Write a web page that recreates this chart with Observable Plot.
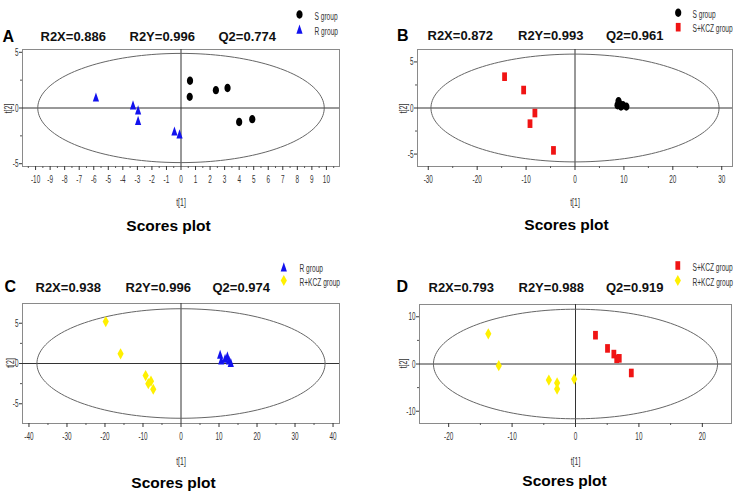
<!DOCTYPE html>
<html>
<head>
<meta charset="utf-8">
<script src="https://cdn.jsdelivr.net/npm/d3@7"></script>
<script src="https://cdn.jsdelivr.net/npm/@observablehq/plot@0.6"></script>
<style>
html, body { margin: 0; padding: 0; background: #fff; }
#chart { position: relative; width: 735px; height: 492px; overflow: hidden; background: #fff; }
#chart svg { position: absolute; }
</style>
</head>
<body>
<div id="chart"></div>
<script>
// ---------------- DATA ----------------
const panelLetters = ["A", "B", "C", "D"];
const statsA = ["R2X=0.886", "R2Y=0.996", "Q2=0.774"];
const statsB = ["R2X=0.872", "R2Y=0.993", "Q2=0.961"];
const statsC = ["R2X=0.938", "R2Y=0.996", "Q2=0.974"];
const statsD = ["R2X=0.793", "R2Y=0.988", "Q2=0.919"];
const panelTitle = "Scores plot";
const xAxisLabel = "t[1]";
const yAxisLabel = "t[2]";

const groupNames   = ["S group", "R group", "S+KCZ group", "R+KCZ group"];
const groupColors  = ["#000000", "#1212ee", "#f01414", "#fff000"];
const groupSymbols = ["circle", "triangle", "square", "diamond"];

const groupsA = ["S group", "R group"];
const groupsB = ["S group", "S+KCZ group"];
const groupsC = ["R group", "R+KCZ group"];
const groupsD = ["S+KCZ group", "R+KCZ group"];

// Panel A
const A_S_x = [0.62, 0.6, 2.4, 3.2, 4.0, 4.9];
const A_S_y = [2.45, 1.0, 1.6, 1.8, -1.25, -1.0];
const A_R_x = [-5.85, -3.3, -2.95, -2.95, -0.45, -0.1];
const A_R_y = [0.95, 0.25, -0.2, -1.15, -2.1, -2.35];
// Panel B
const B_S_x = [8.7, 8.9, 9.1, 9.4, 9.8, 10.5];
const B_S_y = [0.3, 0.75, 0.45, 0.15, 0.3, 0.15];
const B_SK_x = [-14.4, -10.5, -8.2, -9.2, -4.4];
const B_SK_y = [3.4, 1.95, -0.55, -1.7, -4.6];
// Panel C
const C_R_x = [10.3, 10.6, 11.6, 12.2, 12.6, 13.1];
const C_R_y = [1.1, 0.4, 0.6, 0.9, 0.4, 0.1];
const C_RK_x = [-19.8, -15.9, -9.3, -8.6, -7.9, -7.3];
const C_RK_y = [5.2, 1.2, -1.5, -2.5, -2.2, -3.2];
// Panel D
const D_SK_x = [3.15, 5.05, 6.05, 6.5, 6.9, 8.8];
const D_SK_y = [6.1, 3.3, 2.1, 1.1, 1.2, -1.9];
const D_RK_x = [-13.75, -12.1, -4.2, -2.9, -2.9, -0.2];
const D_RK_y = [6.4, -0.35, -3.4, -4.0, -5.3, -3.2];

// Hotelling T2 ellipse semi-axes [t1, t2]
const ellipseA = [9.85, 4.9];
const ellipseB = [29.45, 5.85];
const ellipseC = [37.9, 6.8];
const ellipseD = [22.4, 11.6];

// Axis domains and ticks
const xDomainA = [-10.9, 10.9], yDomainA = [-5.25, 5.25];
const xDomainB = [-32.2, 32.2], yDomainB = [-6.35, 6.35];
const xDomainC = [-41.7, 41.7], yDomainC = [-7.45, 7.45];
const xDomainD = [-24.6, 24.6], yDomainD = [-12.6, 12.6];

const xTicksA = [-10, -9, -8, -7, -6, -5, -4, -3, -2, -1, 0, 1, 2, 3, 4, 5, 6, 7, 8, 9, 10];
const xMinorA = [-10.5, -9.5, -8.5, -7.5, -6.5, -5.5, -4.5, -3.5, -2.5, -1.5, -0.5, 0.5, 1.5, 2.5, 3.5, 4.5, 5.5, 6.5, 7.5, 8.5, 9.5, 10.5];
const yTicksA = [-5, 0, 5];
const yMinorA = [-2.5, 2.5];
const xTicksB = [-30, -20, -10, 0, 10, 20, 30];
const xMinorB = [-25, -15, -5, 5, 15, 25];
const yTicksB = [-5, 0, 5];
const yMinorB = [-2.5, 2.5];
const xTicksC = [-40, -30, -20, -10, 0, 10, 20, 30, 40];
const xMinorC = [-35, -25, -15, -5, 5, 15, 25, 35];
const yTicksC = [-5, 0, 5];
const yMinorC = [-2.5, 2.5];
const xTicksD = [-20, -10, 0, 10, 20];
const xMinorD = [-15, -5, 5, 15];
const yTicksD = [-10, 0, 10];
const yMinorD = [-5, 5];

// ---------------- RENDERING ----------------
const fontMain = "'Liberation Sans', Arial, Helvetica, sans-serif";
const fontNarrow = "'Liberation Sans Narrow', 'Liberation Sans', Arial, sans-serif";

const K = 0.5523;
const SYMBOLS = {
  circle: {draw(ctx) {
    const rx = 3.1, ry = 4.2;
    ctx.moveTo(rx, 0);
    ctx.bezierCurveTo(rx, ry * K, rx * K, ry, 0, ry);
    ctx.bezierCurveTo(-rx * K, ry, -rx, ry * K, -rx, 0);
    ctx.bezierCurveTo(-rx, -ry * K, -rx * K, -ry, 0, -ry);
    ctx.bezierCurveTo(rx * K, -ry, rx, -ry * K, rx, 0);
    ctx.closePath();
  }},
  triangle: {draw(ctx) {
    ctx.moveTo(0, -5); ctx.lineTo(3.1, 4.2); ctx.lineTo(-3.1, 4.2); ctx.closePath();
  }},
  square: {draw(ctx) {
    ctx.moveTo(-2.4, -4.3); ctx.lineTo(2.4, -4.3); ctx.lineTo(2.4, 4.3); ctx.lineTo(-2.4, 4.3); ctx.closePath();
  }},
  diamond: {draw(ctx) {
    ctx.moveTo(0, -5.6); ctx.lineTo(3.1, 0); ctx.lineTo(0, 5.6); ctx.lineTo(-3.1, 0); ctx.closePath();
  }}
};

function styleOf(name) {
  const i = groupNames.indexOf(name);
  return {color: groupColors[i], symbol: SYMBOLS[groupSymbols[i]]};
}

function zip(xs, ys) { return xs.map((x, i) => ({x, y: ys[i]})); }

const layouts = [
  {left: 0, top: 0, width: 367, height: 245, mL: 22, mR: 28, mT: 49, mB: 79,
   letterX: 2, letterBase: 41.5, statsX: [40, 129, 218], statsBase: 41,
   titleC: 168, titleBase: 230, t1: [180.5, 202], t2: [8, 108],
   legX: 299, legY: [14, 29], legTextX: 314},
  {left: 367, top: 0, width: 368, height: 245, mL: 50, mR: 3, mT: 49, mB: 79,
   letterX: 396.5, letterBase: 40, statsX: [427, 517.5, 605.5], statsBase: 40,
   titleC: 566, titleBase: 229, t1: [574.5, 202], t2: [403, 108],
   legX: 677.7, legY: [12.3, 26.7], legTextX: 692},
  {left: 0, top: 245, width: 367, height: 247, mL: 22, mR: 28, mT: 58, mB: 69,
   letterX: 4, letterBase: 291.5, statsX: [35, 125, 212], statsBase: 292,
   titleC: 173, titleBase: 486.5, t1: [180.5, 461.5], t2: [10, 362.5],
   legX: 283.3, legY: [266.7, 280], legTextX: 299},
  {left: 367, top: 245, width: 368, height: 247, mL: 52, mR: 4, mT: 59, mB: 69,
   letterX: 396, letterBase: 291.5, statsX: [428, 518, 605.5], statsBase: 291.5,
   titleC: 564, titleBase: 485, t1: [575, 461.5], t2: [403, 363],
   legX: 677.3, legY: [265, 280], legTextX: 692}
];

const panels = [
  {letter: panelLetters[0], stats: statsA, groups: groupsA, pts: [zip(A_S_x, A_S_y), zip(A_R_x, A_R_y)],
   ell: ellipseA, xDom: xDomainA, yDom: yDomainA, xT: xTicksA, xM: xMinorA, yT: yTicksA, yM: yMinorA},
  {letter: panelLetters[1], stats: statsB, groups: groupsB, pts: [zip(B_S_x, B_S_y), zip(B_SK_x, B_SK_y)],
   ell: ellipseB, xDom: xDomainB, yDom: yDomainB, xT: xTicksB, xM: xMinorB, yT: yTicksB, yM: yMinorB},
  {letter: panelLetters[2], stats: statsC, groups: groupsC, pts: [zip(C_R_x, C_R_y), zip(C_RK_x, C_RK_y)],
   ell: ellipseC, xDom: xDomainC, yDom: yDomainC, xT: xTicksC, xM: xMinorC, yT: yTicksC, yM: yMinorC},
  {letter: panelLetters[3], stats: statsD, groups: groupsD, pts: [zip(D_SK_x, D_SK_y), zip(D_RK_x, D_RK_y)],
   ell: ellipseD, xDom: xDomainD, yDom: yDomainD, xT: xTicksD, xM: xMinorD, yT: yTicksD, yM: yMinorD}
];

// horizontally condense a text element around its anchor
function squeeze(el, s) {
  const t = el.getAttribute("transform") || "";
  const x = +el.getAttribute("x") || 0;
  el.setAttribute("transform", `${t} translate(${x},0) scale(${s},1) translate(${-x},0)`);
}

const chart = document.getElementById("chart");

panels.forEach((p, k) => {
  const L = layouts[k];
  const fx = L.left + L.mL, fy = L.top + L.mT;
  const at = (ax, ay) => ({frameAnchor: "top-left", dx: ax - fx, dy: ay - fy});
  const ellPts = d3.range(0, 361, 2).map(a => ({
    x: p.ell[0] * Math.cos(a * Math.PI / 180),
    y: p.ell[1] * Math.sin(a * Math.PI / 180)
  }));
  const fmt = d => String(d);
  const marks = [
    Plot.frame({stroke: "#8a8a8a", strokeWidth: 1}),
    Plot.ruleY([0], {stroke: "#333", strokeWidth: 1}),
    Plot.ruleX([0], {stroke: "#333", strokeWidth: 1}),
    Plot.line(ellPts, {x: "x", y: "y", stroke: "#666", strokeWidth: 1, curve: "linear"}),
    Plot.axisX({ticks: p.xT, tickSize: 4, tickPadding: 5, tickFormat: fmt, label: null,
      fontSize: 11, fontFamily: fontNarrow, color: "#333", ariaDescription: "ticklabel"}),
    Plot.axisX({ticks: p.xM, tickSize: 2, text: null, label: null, color: "#555"}),
    Plot.axisY({ticks: p.yT, tickSize: 3, tickPadding: 1, tickFormat: fmt, label: null,
      fontSize: 11, fontFamily: fontNarrow, color: "#333", ariaDescription: "ticklabel"}),
    Plot.axisY({ticks: p.yM, tickSize: 2, text: null, label: null, color: "#555"})
  ];
  p.groups.forEach((g, gi) => {
    const s = styleOf(g);
    marks.push(Plot.dot(p.pts[gi], {x: "x", y: "y", symbol: s.symbol, fill: s.color, stroke: "none"}));
    // legend
    marks.push(Plot.dot([g], {...at(L.legX, L.legY[gi]), symbol: s.symbol, fill: s.color, stroke: "none"}));
    marks.push(Plot.text([g], {...at(L.legTextX, L.legY[gi] - 2), text: d => d, textAnchor: "start",
      fontSize: 10, fontFamily: fontNarrow, fill: "#333", ariaDescription: "narrow"}));
  });
  // panel letter
  marks.push(Plot.text([p.letter], {...at(L.letterX, L.letterBase - 0.32 * 16 - 6), text: d => d,
    textAnchor: "start", fontSize: 16, fontWeight: "bold", fontFamily: fontMain, fill: "#000"}));
  // stats
  p.stats.forEach((s, i) => {
    marks.push(Plot.text([s], {...at(L.statsX[i], L.statsBase - 0.32 * 13 - 5.5), text: d => d,
      textAnchor: "start", fontSize: 13, fontWeight: "bold", fontFamily: fontMain, fill: "#111"}));
  });
  // title
  marks.push(Plot.text([panelTitle], {...at(L.titleC, L.titleBase - 0.32 * 15.5 - 5.5), text: d => d,
    textAnchor: "middle", fontSize: 15.5, fontWeight: "bold", fontFamily: fontMain, fill: "#000"}));
  // axis labels
  marks.push(Plot.text([xAxisLabel], {...at(L.t1[0], L.t1[1] - 4), text: d => d,
    textAnchor: "middle", fontSize: 10.5, fontFamily: fontNarrow, fill: "#333", ariaDescription: "narrow"}));
  marks.push(Plot.text([yAxisLabel], {...at(L.t2[0] - 4, L.t2[1]), text: d => d, rotate: -90,
    textAnchor: "middle", fontSize: 10.5, fontFamily: fontNarrow, fill: "#333", ariaDescription: "narrow"}));

  const svg = Plot.plot({
    width: L.width, height: L.height,
    marginLeft: L.mL, marginRight: L.mR, marginTop: L.mT, marginBottom: L.mB,
    x: {domain: p.xDom},
    y: {domain: p.yDom},
    style: {fontFamily: fontNarrow, fontSize: "10px", background: "transparent", overflow: "visible"},
    marks
  });
  svg.style.left = L.left + "px";
  svg.style.top = L.top + "px";
  svg.querySelectorAll('[aria-description="ticklabel"] text').forEach(el => squeeze(el, 0.58));
  svg.querySelectorAll('[aria-description="narrow"] text').forEach(el => squeeze(el, 0.66));
  chart.appendChild(svg);
});
</script>
</body>
</html>
